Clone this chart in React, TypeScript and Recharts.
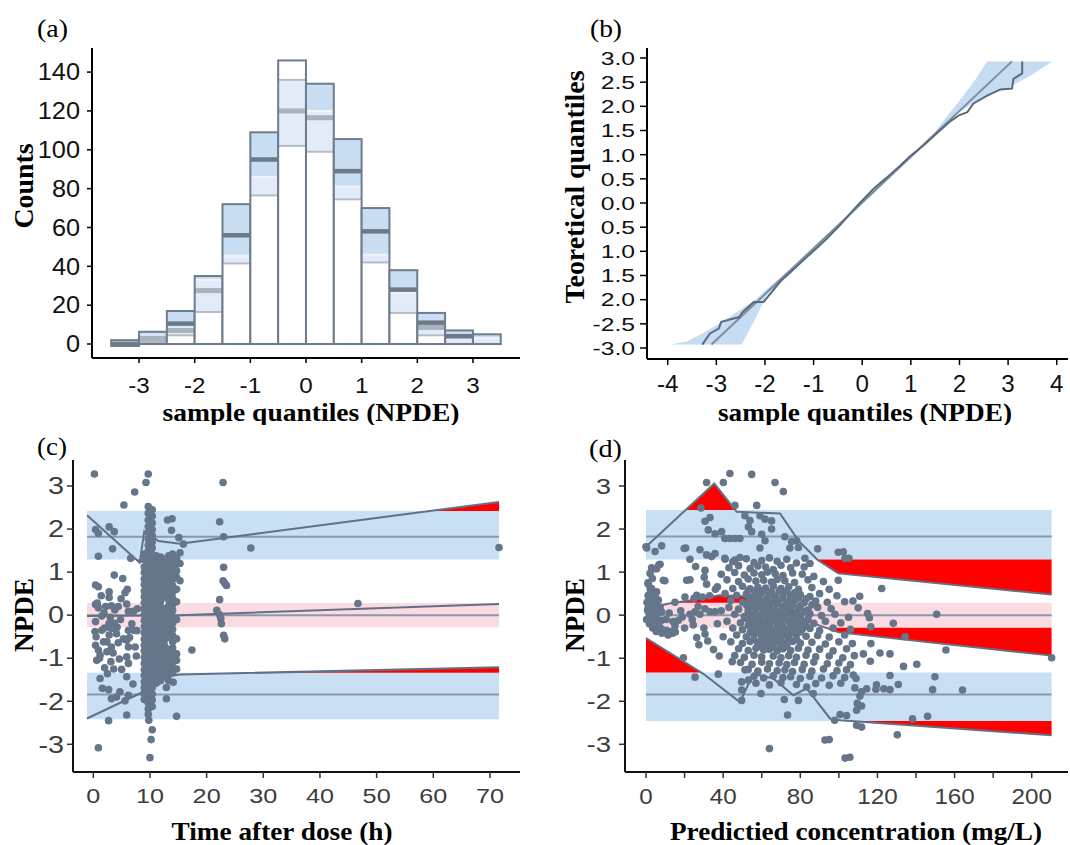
import React from 'react';
import { ComposedChart, Bar, Line, Area, Scatter, XAxis, YAxis } from 'recharts';

const SANS = '"Liberation Sans", Arial, Helvetica, sans-serif';
const SERIF = '"Liberation Serif", "Times New Roman", Times, serif';

// ---------------- (a) histogram ----------------
const binMid = [-3.25, -2.75, -2.25, -1.75, -1.25, -0.75, -0.25, 0.25, 0.75, 1.25, 1.75, 2.25, 2.75, 3.25];
const binBase = [-1, 0, 0, 0, 0, 0, 0, 0, 0, 0, 0, 0, 0, 0];
const binCount = [2, 6.3, 17, 35, 72, 109, 146, 134, 105.5, 70, 38, 16, 7, 5];
const binWhiteTop = [-1, 2.5, 4.5, 16.5, 41.5, 76.5, 102, 99, 74.5, 42, 16, 4.5, 0, 0];
const binLightTop = [-1, 4.3, 10, 33, 45.5, 86, 136, 120, 81, 46, 26.5, 10, 3.5, 3];
const binBlueTop = [-1, 6.3, 17, 35, 72, 109, 136, 134, 105.5, 70, 38, 16, 7, 5];
const binMedian = [-0.2, null, 10.5, null, 56, 95, null, null, 89, 58, 28, 11, 4, null];
const binGrayBand = [null, 3.0, 7, 27.5, null, null, 120, 116.5, null, null, null, 8.5, null, null];
const binGrayFill = [2, 2.5, 0, 0, 0, 0, 0, 0, 0, 0, 0, 0, 3.5, 2.5];
const histXTicks = [-3, -2, -1, 0, 1, 2, 3];
const histYTicks = [0, 20, 40, 60, 80, 100, 120, 140];
const HIST_X_DOMAIN = [-3.845, 3.845];
const HIST_Y_DOMAIN = [-7.2, 152.4];

// ---------------- (b) QQ plot ----------------
const qqBandX = [-3.95, -3.6, -3.29, -2.88, -2.48, -2.2, -1.96, -1.5, -1, -0.5, 0, 0.5, 1, 1.5, 2, 2.29, 2.57, 3, 3.5, 3.91];
const qqBandLo = [-2.93, -2.93, -2.93, -2.93, -2.93, -2.4, -1.9, -1.47, -0.99, -0.51, -0.03, 0.45, 0.92, 1.4, 1.88, 2.07, 2.22, 2.38, 2.66, 2.93];
const qqBandHi = [-2.93, -2.86, -2.7, -2.46, -2.19, -2.0, -1.78, -1.38, -0.91, -0.45, 0.03, 0.51, 0.99, 1.48, 2.12, 2.5, 2.93, 2.93, 2.93, 2.93];
const qqRefX = [-3.1, 3.08];
const qqRefY = [-2.93, 2.93];
const qqObsX = [-3.29, -3.13, -2.95, -2.9, -2.53, -2.46, -2.23, -2.03, -1.82, -1.68, -1.55, -1.41, -1.14, -0.9, -0.73, -0.45, -0.25, -0.04, 0.24, 0.51, 0.79, 0.99, 1.27, 1.54, 1.81, 2.0, 2.16, 2.29, 2.57, 2.84, 3.08, 3.11, 3.29, 3.29];
const qqObsY = [-2.93, -2.7, -2.6, -2.46, -2.36, -2.26, -2.05, -2.05, -1.79, -1.62, -1.5, -1.37, -1.12, -0.9, -0.74, -0.45, -0.22, 0.01, 0.3, 0.53, 0.78, 0.97, 1.2, 1.45, 1.69, 1.82, 1.88, 2.06, 2.22, 2.35, 2.37, 2.57, 2.68, 2.93];
const qqXTicks = [-4, -3, -2, -1, 0, 1, 2, 3, 4];
const qqYTicks = [-3, -2.5, -2, -1.5, -1, -0.5, 0, 0.5, 1, 1.5, 2, 2.5, 3];
const qqYLabels = ['-3.0', '-2.5', '2.0', '1.5', '1.0', '0.5', '0.0', '0.5', '1.0', '1.5', '2.0', '2.5', '3.0'];
const QQ_X_DOMAIN = [-4.426, 4.232];
const QQ_Y_DOMAIN = [-3.228, 3.207];

// ---------------- (c) NPDE vs time ----------------
const tadBandX = [-1.1, 71.6];
const tadUpperBand = [1.29, 2.42];
const tadMidBand = [-0.28, 0.28];
const tadLowerBand = [-2.42, -1.34];
const tadCenters = [1.82, 0, -1.84];
const tadUpperX = [-1.1, 8.2, 9.0, 11.5, 15.3, 71.6];
const tadUpperY = [2.32, 1.22, 1.95, 1.72, 1.66, 2.63];
const tadMidX = [-1.1, 15.3, 71.6];
const tadMidY = [-0.02, 0.0, 0.26];
const tadLowX = [-1.1, 8.5, 9.5, 11.2, 15.3, 71.6];
const tadLowY = [-2.4, -1.8, -1.5, -1.45, -1.38, -1.21];
const tadRedA = { x: [7.61, 8.2, 8.28], lo: [1.29, 1.22, 1.29], hi: [1.29, 1.29, 1.29] };
const tadRedB = { x: [59.4, 71.6], lo: [2.42, 2.42], hi: [2.42, 2.63] };
const tadRedC = { x: [28.5, 71.6], lo: [-1.34, -1.34], hi: [-1.34, -1.21] };
const tadXTicks = [0, 10, 20, 30, 40, 50, 60, 70];
const npdeTicks = [-3, -2, -1, 0, 1, 2, 3];
const TAD_X_DOMAIN = [-3.58, 75.3];
const NPDE_DOMAIN = [-3.643, 3.604];

const tadScatter: number[][] = [
  [0.2, 3.28], [9.7, 3.28], [9.3, 3.08], [7.3, 2.86], [5.4, 2.56], [22.9, 3.08],
  [0.4, 1.99], [0.9, 1.9], [2.8, 2.05], [3.7, 1.94], [3.4, 1.54], [0.9, 1.37], [6.6, 1.32],
  [13.1, 2.21], [13.9, 2.24], [13.8, 1.97], [15.1, 1.8], [15.9, 1.65],
  [22.3, 2.17], [23.0, 1.82], [27.8, 1.56], [23.0, 1.11], [22.9, 0.8], [23.2, 0.74], [23.5, 0.69], [22.3, 0.36],
  [21.8, 0.11], [22.3, 0.01], [22.5, -0.08], [22.6, -0.2], [23.0, -0.47], [23.2, -0.55],
  [46.7, 0.27], [71.6, 1.57], [17.4, -0.81],
  [3.7, 0.93], [5.2, 0.85], [0.4, 0.7], [0.9, 0.66], [2.8, 0.54], [2.8, 0.41], [5.6, 0.52], [0.4, 0.25], [0.9, 0.17],
  [2.2, 0.2], [3.2, 0.22], [4.4, 0.2], [5.9, 0.26], [6.2, 0.09], [7.1, 0.09], [1.5, -0.02], [0.4, -0.15], [2.8, -0.19],
  [3.7, -0.19], [3.2, -0.31], [1.5, -0.35], [2.8, -0.46], [4.1, -0.43], [6.2, -0.35], [7.1, -0.35], [7.7, -0.36],
  [0.4, -0.7], [0.9, -0.81], [2.4, -0.62], [3.2, -0.74], [4.4, -0.64], [5.9, -0.58], [6.2, -0.74], [7.4, -0.74],
  [1.2, -0.93], [3.5, -0.88], [5.9, -0.97], [3.1, -1.08], [5.0, -1.26], [6.2, -1.12], [1.2, -1.47], [2.5, -1.36],
  [5.9, -1.43], [2.7, -1.73], [4.7, -1.78], [6.2, -1.86], [3.2, -1.94], [4.1, -1.9], [5.6, -1.99], [5.9, -2.32],
  [2.7, -2.45], [0.9, -3.08], [10.0, -3.31], [10.2, -2.89], [10.4, -2.66], [9.8, -2.44], [12.9, -1.94], [14.7, -2.35],
  [12.9, -1.68], [14.1, -1.56],
  [0.5, -0.5], [1.1, -1.0], [2.0, -0.3], [1.8, -0.62], [4.8, -0.1], [5.3, -0.55], [6.8, -0.2], [0.3, -0.38],
  [1.9, 0.05], [4.6, -1.02], [0.6, -1.05], [2.0, -1.22], [3.8, 0.12], [4.9, 0.38], [6.4, -0.52], [7.8, 0.15],
  [0.7, 0.28], [2.4, -0.85], [4.2, -0.28], [3.6, -1.25], [1.6, -1.7], [7.0, -1.6], [7.6, -0.95], [6.0, 0.6],
  [1.4, 0.45], [3.0, -0.05],
];

const tadDenseCols = [
  { t: 9.0, ys: [1.42, 1.28, 1.12, 0.99, 0.84, 0.71, 0.56, 0.43, 0.28, 0.14, 0.01, -0.13, -0.27, -0.41, -0.56, -0.7, -0.83, -0.98, -1.12, -1.27, -1.4, -1.55, -1.69, -1.83, -1.96] },
  { t: 9.7, ys: [2.52, 2.37, 2.21, 2.06, 1.92, 1.77, 1.63, 1.49, 1.35, 1.2, 1.06, 0.92, 0.78, 0.63, 0.49, 0.35, 0.21, 0.07, -0.06, -0.2, -0.35, -0.49, -0.63, -0.77, -0.91, -1.05, -1.19, -1.33, -1.47, -1.62, -1.76, -1.9, -2.04, -2.18, -2.3] },
  { t: 10.4, ys: [2.45, 2.3, 2.14, 1.99, 1.85, 1.7, 1.56, 1.41, 1.27, 1.13, 0.99, 0.85, 0.7, 0.56, 0.42, 0.28, 0.14, 0.0, -0.14, -0.28, -0.42, -0.56, -0.7, -0.84, -0.98, -1.12, -1.26, -1.4, -1.54, -1.68, -1.83, -1.97, -2.12] },
  { t: 11.1, ys: [1.38, 1.23, 1.09, 0.95, 0.81, 0.66, 0.52, 0.38, 0.24, 0.1, -0.04, -0.18, -0.32, -0.46, -0.6, -0.74, -0.88, -1.02, -1.16, -1.3, -1.44, -1.58] },
  { t: 11.9, ys: [1.35, 1.2, 1.05, 0.91, 0.77, 0.62, 0.48, 0.33, 0.19, 0.05, -0.09, -0.24, -0.38, -0.52, -0.67, -0.81, -0.95, -1.1, -1.24, -1.38, -1.52] },
  { t: 12.6, ys: [1.3, 1.16, 1.01, 0.86, 0.72, 0.57, 0.43, 0.15, 0.01, -0.13, -0.28, -0.42, -0.57, -0.71, -0.85, -1.0, -1.14, -1.28, -1.43] },
  { t: 13.3, ys: [1.38, 1.23, 1.08, 0.94, 0.79, 0.65, 0.5, 0.36, 0.21, 0.07, -0.08, -0.22, -0.37, -0.51, -0.8, -0.94, -1.09, -1.23, -1.38, -1.52] },
  { t: 14.0, ys: [1.42, 1.27, 1.12, 0.98, 0.83, 0.69, 0.54, 0.4, 0.25, 0.11, -0.04, -0.18, -0.33, -0.47, -0.62, -0.76, -0.91, -1.05, -1.2, -1.34] },
  { t: 14.7, ys: [1.33, 1.18, 1.03, 0.88, 0.6, 0.31, -0.1, -0.55, -0.9, -1.05, -1.25] },
  { t: 15.3, ys: [1.45, 1.2, 0.8] },
];

// ---------------- (d) NPDE vs predicted concentration ----------------
const concBandX = [0, 210.3];
const concUpperBand = [1.29, 2.44];
const concMidBand = [-0.29, 0.29];
const concLowerBand = [-2.46, -1.33];
const concCenters = [1.83, 0, -1.84];
const concUpperX = [0, 35.4, 47, 69.5, 79, 89, 99.7, 210.3];
const concUpperY = [1.59, 3.06, 2.4, 2.36, 1.73, 1.28, 0.97, 0.48];
const concMidX = [0, 12, 25, 38, 50, 62, 78, 93, 100, 210.3];
const concMidY = [0.15, 0.27, 0.36, 0.46, 0.44, 0.22, -0.05, -0.29, -0.4, -0.94];
const concLowX = [0, 29.7, 48.7, 55.6, 66.0, 76.4, 83.3, 95.4, 100.6, 210.3];
const concLowY = [-0.53, -1.36, -2.02, -1.36, -1.47, -1.86, -1.7, -2.4, -2.44, -2.79];
const concRedA = { x: [20.5, 35.4, 46.3], lo: [2.44, 2.44, 2.44], hi: [2.44, 3.06, 2.44] };
const concRedB = { x: [88.8, 89, 99.7, 210.3], lo: [1.29, 1.28, 0.97, 0.48], hi: [1.29, 1.29, 1.29, 1.29] };
const concRedC = { x: [14.9, 25, 38, 50, 58.2], lo: [0.29, 0.29, 0.29, 0.29, 0.29], hi: [0.29, 0.36, 0.46, 0.44, 0.29] };
const concRedD = { x: [93, 100, 210.3], lo: [-0.29, -0.4, -0.94], hi: [-0.29, -0.29, -0.29] };
const concRedE = { x: [0, 28.6], lo: [-1.33, -1.33], hi: [-0.53, -1.33] };
const concRedF = { x: [106.9, 210.3], lo: [-2.46, -2.79], hi: [-2.46, -2.46] };
const concXTicks = [0, 20, 40, 60, 80, 100, 120, 140, 160, 180, 200];
const CONC_X_DOMAIN = [-10.89, 218.8];

const concScatter: number[][] = [
  [43.5, 3.29], [54.8, 3.27], [31.4, 3.08], [40.1, 3.08], [66.9, 3.08], [71.2, 2.87], [46.1, 2.55], [57.4, 2.55], [28.5, 2.49],
  [30.6, 2.18], [33.2, 2.27], [32.3, 1.98], [35.8, 1.89], [39.2, 1.94], [40.9, 1.78], [43.5, 1.78], [46.1, 1.78], [48.7, 1.78],
  [51.3, 2.31], [53.9, 2.2], [53.1, 2.05], [54.8, 1.94], [59.1, 2.31], [61.7, 2.23], [65.1, 2.19], [65.1, 2.0], [60.0, 1.88],
  [61.7, 1.73], [59.1, 1.56], [72.0, 1.82], [75.5, 1.71], [74.6, 1.56], [78.1, 1.73], [79.0, 1.57],
  [0.35, 1.56], [4.7, 1.48], [8.1, 1.61], [20.6, 1.56], [28.0, 1.52],
  [31.4, 1.4], [34.0, 1.36], [35.8, 1.43], [40.9, 1.32], [46.1, 1.28], [48.7, 1.34],
  [89.0, 1.54], [102.3, 1.47], [105.2, 1.32], [82.4, 1.32], [85.0, 1.2], [99.7, 1.46], [103.2, 1.32], [99.7, 0.81], [122.2, 0.62],
  [2.9, 1.1], [5.5, 1.08], [7.3, 1.18], [9.8, 0.8], [2.1, 0.97], [3.3, 0.85], [22.8, 0.82], [25.7, 1.13], [30.6, 1.04],
  [30.2, 0.88], [31.4, 0.72], [22.8, 1.3],
  [1.2, 0.72], [2.9, 0.62], [5.5, 0.54], [1.2, 0.46], [2.1, 0.35], [4.7, 0.27], [6.4, 0.35], [7.3, 0.19], [8.1, 0.08],
  [1.2, 0.19], [1.2, 0.08], [2.9, -0.04], [4.7, -0.12], [6.4, -0.23], [8.1, -0.12], [10.6, -0.35], [11.5, -0.46], [13.8, -0.42], [15.2, -0.39],
  [16.8, -0.12], [18.8, -0.04], [22.8, 0.02], [25.4, 0.08], [28.0, 0.02], [30.6, 0.15], [33.2, 0.08], [35.8, 0.08],
  [24.5, -0.23], [26.3, -0.52], [30.6, -0.44], [27.4, -0.69], [20.2, 0.42], [26.3, 0.46], [29.2, 0.42],
  [19.4, -0.99], [25.4, -1.44], [37.5, -1.37], [44.7, -1.08], [49.6, -1.55], [53.1, -1.51], [49.6, -1.74], [49.6, -1.98], [51.3, -1.27], [59.6, -1.82],
  [64.0, -3.1], [71.7, -1.96], [73.4, -2.32], [79.0, -1.98], [83.3, -1.67], [86.7, -1.82], [95.0, -2.89], [97.8, -2.44], [100.6, -2.31], [104.0, -2.33], [105.7, -3.3],
  [108.3, -1.69], [110.9, -1.88], [111.8, -2.11], [111.8, -2.6],
  [107.3, 0.33], [110.8, 0.44], [110.0, 0.17], [114.9, 0.04], [115.8, -0.06], [116.6, -0.27], [128.2, -0.19], [134.3, -0.5], [150.7, 0.02], [155.5, -0.81], [210.3, -0.99],
  [116.6, -0.66], [121.3, -0.88], [126.5, -0.9], [112.7, -0.9], [116.3, -1.07], [133.5, -1.19], [140.4, -1.14], [126.5, -1.4], [130.8, -1.61], [126.5, -1.73], [119.2, -1.72], [123.3, -1.71],
  [149.8, -1.43], [148.6, -1.73], [164.1, -1.74], [138.2, -2.41], [146.0, -2.35], [130.3, -2.78], [109.2, -2.56], [109.2, -2.21], [109.5, -2.05], [103.2, -3.32], [92.8, -2.9],
  [107.5, -1.39], [108.9, -1.47], [111.8, -1.78], [114.4, -1.71], [119.5, -1.62], [21.1, 0.81], [9.0, 0.81], [4.6, 1.08], [6.7, 1.17], [24.9, 0.39], [0, 1.59], [19.8, 1.55],
  [0.5, 0.3], [1.2, 0.45], [2.0, 0.2], [2.5, 0.05], [1.5, -0.05], [0.8, 0.12], [3.2, 0.3], [3.8, 0.12], [4.5, -0.05], [3.0, -0.15], [5.2, 0.2], [5.8, -0.1],
  [6.5, -0.2], [7.5, -0.3], [8.2, -0.42], [9.0, -0.35], [4.0, 0.5], [5.0, 0.4], [2.2, 0.6], [1.0, 0.75], [6.0, 0.05], [7.0, 0.1], [0.3, -0.1], [1.8, -0.2],
  [3.5, -0.3], [5.3, -0.38], [10.5, -0.1], [12, 0.05], [14, -0.15], [15, -0.25], [11.5, -0.45], [13, -0.38],
  [18, 0.1], [20, -0.3], [24, -0.1], [27, 0.2], [30, -0.3], [32, -0.6], [35, -0.8], [37, -0.2], [39, 0.1], [33, 0.45], [36, 0.6], [15, 0.3], [38, -0.95], [40, -0.5],
];

const concCore: number[][] = [
  [41, 1.3], [45, 1.24], [52, 1.31], [56, 1.22], [60, 1.27], [64, 1.33], [68, 1.25], [73, 1.3], [78, 1.21],
  [43, 1.1], [48, 1.15], [54, 1.08], [58, 1.14], [62, 1.12], [66, 1.06], [70, 1.16], [75, 1.1], [82, 1.12],
  [39, 0.95], [46, 0.99], [51, 0.93], [56, 0.98], [60, 0.94], [63, 1.0], [67, 0.96], [71, 0.92], [76, 0.98], [81, 0.95], [87, 0.9],
  [42, 0.82], [48, 0.78], [53, 0.84], [57, 0.79], [61, 0.81], [65, 0.77], [68, 0.83], [72, 0.8], [77, 0.76], [84, 0.82], [92, 0.78],
  [37, 0.66], [45, 0.62], [50, 0.67], [54, 0.61], [58, 0.65], [62, 0.63], [66, 0.68], [70, 0.62], [74, 0.66], [79, 0.6], [86, 0.64], [95, 0.6],
  [41, 0.5], [47, 0.46], [52, 0.49], [56, 0.45], [60, 0.51], [64, 0.47], [67, 0.44], [71, 0.5], [75, 0.46], [80, 0.48], [85, 0.43], [90, 0.5], [99, 0.45],
  [44, 0.34], [50, 0.3], [54, 0.35], [58, 0.31], [62, 0.33], [65, 0.28], [69, 0.34], [73, 0.3], [77, 0.35], [82, 0.29], [88, 0.33], [94, 0.3], [103, 0.31],
  [43, 0.18], [48, 0.14], [53, 0.17], [57, 0.13], [60, 0.19], [63, 0.15], [67, 0.12], [71, 0.18], [75, 0.14], [79, 0.17], [84, 0.12], [89, 0.18], [96, 0.15],
  [46, 0.02], [51, -0.03], [55, 0.01], [59, -0.02], [62, 0.03], [65, -0.01], [68, 0.02], [72, -0.04], [76, 0.01], [80, -0.02], [85, 0.03], [91, -0.01], [98, 0.02], [105, -0.05],
  [42, -0.14], [49, -0.18], [54, -0.13], [57, -0.17], [61, -0.15], [64, -0.19], [67, -0.14], [70, -0.18], [74, -0.13], [78, -0.17], [82, -0.15], [87, -0.19], [93, -0.14], [101, -0.18],
  [45, -0.3], [50, -0.34], [55, -0.29], [58, -0.33], [62, -0.31], [66, -0.35], [69, -0.3], [73, -0.34], [77, -0.29], [81, -0.33], [85, -0.31], [90, -0.36], [97, -0.3], [106, -0.33],
  [47, -0.46], [52, -0.5], [56, -0.45], [60, -0.49], [63, -0.47], [67, -0.51], [71, -0.46], [74, -0.5], [78, -0.45], [83, -0.49], [89, -0.47], [95, -0.51], [103, -0.46],
  [44, -0.62], [50, -0.66], [54, -0.61], [58, -0.65], [62, -0.63], [65, -0.67], [69, -0.62], [72, -0.66], [76, -0.61], [80, -0.65], [86, -0.63], [93, -0.67], [100, -0.62], [107, -0.66],
  [48, -0.78], [53, -0.82], [57, -0.77], [61, -0.81], [64, -0.79], [68, -0.83], [71, -0.78], [75, -0.82], [79, -0.77], [84, -0.81], [90, -0.79], [97, -0.83], [104, -0.78],
  [46, -0.94], [51, -0.98], [56, -0.93], [60, -0.97], [66, -0.95], [70, -0.99], [74, -0.94], [78, -0.98], [83, -0.93], [88, -0.97], [95, -0.95], [102, -0.99], [108, -0.94],
  [49, -1.1], [55, -1.14], [60, -1.09], [64, -1.13], [69, -1.11], [73, -1.15], [77, -1.1], [82, -1.14], [87, -1.09], [94, -1.13], [100, -1.11], [106, -1.15],
  [53, -1.26], [58, -1.3], [63, -1.25], [68, -1.29], [72, -1.27], [76, -1.31], [81, -1.26], [86, -1.3], [92, -1.25], [99, -1.29], [104, -1.27],
  [56, -1.42], [61, -1.46], [66, -1.41], [71, -1.45], [75, -1.43], [80, -1.47], [85, -1.42], [91, -1.46], [97, -1.41], [103, -1.45],
  [57, -1.58], [64, -1.62], [70, -1.57], [78, -1.61], [88, -1.59], [95, -1.63], [101, -1.58],
  [53, 0.58], [57, 0.55], [61, 0.57], [65, 0.54], [69, 0.56], [73, 0.55], [77, 0.52],
  [55, 0.41], [59, 0.39], [63, 0.4], [67, 0.38], [71, 0.41], [75, 0.39], [79, 0.4], [83, 0.38],
  [52, 0.24], [56, 0.22], [60, 0.25], [64, 0.23], [68, 0.26], [72, 0.22], [76, 0.25], [80, 0.23], [86, 0.24],
  [53, 0.09], [57, 0.07], [61, 0.08], [64, 0.06], [67, 0.09], [70, 0.07], [74, 0.08], [78, 0.06], [82, 0.09],
  [52, -0.08], [56, -0.09], [59, -0.07], [63, -0.1], [66, -0.08], [69, -0.09], [72, -0.07], [76, -0.1], [80, -0.08], [84, -0.09],
  [53, -0.24], [57, -0.23], [60, -0.25], [64, -0.26], [68, -0.22], [71, -0.25], [75, -0.24], [79, -0.23], [83, -0.25],
  [54, -0.4], [58, -0.41], [61, -0.39], [65, -0.42], [69, -0.38], [72, -0.41], [76, -0.4], [80, -0.39],
  [56, -0.56], [60, -0.57], [64, -0.55], [67, -0.58], [70, -0.54], [74, -0.57], [78, -0.56],
  [59, -0.72], [63, -0.71], [66, -0.73], [70, -0.7], [73, -0.72],
];

// ---------------- helpers ----------------
const pts = (xs: number[], ys: number[]) => xs.map((x, i) => ({ x, y: ys[i] }));
const rng = (xs: number[], lo: number[], hi: number[]) => xs.map((x, i) => ({ x, v: [lo[i], hi[i]] }));
const bandRows = (xs: number[], b: number[]) => xs.map((x) => ({ x, v: [b[0], b[1]] }));
const hline = (xs: number[], y: number) => xs.map((x) => ({ x, y }));
const pairs = (a: number[][]) => a.map(([x, y]) => ({ x, y }));

const histData = binMid.map((x, i) => ({
  x,
  range: [binBase[i], binCount[i]],
  base: binBase[i],
  count: binCount[i],
  whiteTop: binWhiteTop[i],
  lightTop: binLightTop[i],
  blueTop: binBlueTop[i],
  median: binMedian[i],
  grayBand: binGrayBand[i],
  grayFill: binGrayFill[i],
}));

const tadDots = [
  ...pairs(tadScatter),
  ...tadDenseCols.flatMap((c) => c.ys.map((y) => ({ x: c.t, y }))),
];
const concDots = [...pairs(concCore), ...pairs(concScatter)];

const AXIS = { stroke: '#000', strokeWidth: 2 };
const TICKLINE = { stroke: '#000', strokeWidth: 1.5 };
const BLUE = '#c9dff4';
const PINK = '#fadbe1';
const RED = '#ff0000';
const CENTER = '#8a99a8';
const PCT = '#617083';
const DOT = '#65768a';

function Tick(props: any) {
  const { x, y, payload, textAnchor, fs, sx, color, fmt, vert } = props;
  const v = payload ? payload.value : '';
  const label = fmt ? fmt(v) : String(v);
  return (
    <g transform={`translate(${x},${y})`}>
      <text transform={`scale(${sx},1)`} x={0} y={0} dy={vert ? '0.36em' : '0.71em'} textAnchor={textAnchor} fill={color} fontSize={fs} fontFamily={SANS}>
        {label}
      </text>
    </g>
  );
}

function XTitle(props: any) {
  const { px, py, title, len, fs } = props;
  return (
    <text x={px} y={py} textAnchor="middle" fontFamily={SERIF} fontWeight="bold" fontSize={fs} fill="#000" textLength={len} lengthAdjust="spacingAndGlyphs">
      {title}
    </text>
  );
}

function YTitle(props: any) {
  const { px, py, title, len, fs } = props;
  return (
    <text x={px} y={py} transform={`rotate(-90 ${px} ${py})`} textAnchor="middle" dominantBaseline="central" fontFamily={SERIF} fontWeight="bold" fontSize={fs} fill="#000" textLength={len} lengthAdjust="spacingAndGlyphs">
      {title}
    </text>
  );
}

function HistBin(p: any) {
  const { x, y, width, height, payload: d } = p;
  if (!d || !height) return null;
  const k = height / (d.count - d.base);
  const Y = (v: number) => y + (d.count - v) * k;
  const band = (a: number, b: number, fill: string) => (b > a ? <rect x={x} y={Y(b)} width={width} height={(b - a) * k} fill={fill} /> : null);
  const line = (v: number | null, th: number, fill: string) => (v == null ? null : <rect x={x} y={Y(v) - th / 2} width={width} height={th} fill={fill} />);
  return (
    <g>
      <rect x={x} y={y} width={width} height={height} fill="#fff" />
      {band(d.base, d.grayFill, '#aeb8c2')}
      {band(d.whiteTop, d.lightTop, '#e1ecf8')}
      {band(d.lightTop, d.blueTop, '#c9ddf3')}
      {d.whiteTop > d.base && d.whiteTop < d.count ? line(d.whiteTop, 2, '#b4bdc6') : null}
      {d.lightTop > d.whiteTop && d.lightTop < d.blueTop ? line(d.lightTop, 2, '#f1f5fa') : null}
      {d.blueTop < d.count ? line(d.blueTop, 2, '#b4bdc6') : null}
      {line(d.grayBand, 5, '#a9b3bd')}
      {line(d.median, 4.5, '#6b7989')}
      <rect x={x} y={y} width={width} height={height} fill="none" stroke="#6e7d8d" strokeWidth={2} />
    </g>
  );
}

const HIST_PLOT_W = 535 - 92 - 15;
const HIST_BAR = (0.5 / (HIST_X_DOMAIN[1] - HIST_X_DOMAIN[0])) * HIST_PLOT_W - 0.05;

const dotShape = (p: any) => <circle cx={p.cx} cy={p.cy} r={3.8} fill={DOT} />;

function HistPanel() {
  return (
    <ComposedChart width={535} height={425} data={histData} margin={{ top: 48, right: 15, bottom: 37, left: 32 }} barCategoryGap={0} barGap={0}>
      <XAxis type="number" dataKey="x" domain={HIST_X_DOMAIN} ticks={histXTicks} allowDataOverflow interval={0} height={30}
        tickSize={5} tickMargin={14} axisLine={AXIS} tickLine={TICKLINE}
        tick={<Tick fs={22} sx={1.1} color="#111" />}
        label={<XTitle px={311} py={421} title="sample quantiles (NPDE)" len={297} fs={25} />} />
      <YAxis type="number" domain={HIST_Y_DOMAIN} ticks={histYTicks} allowDataOverflow interval={0} width={60}
        tickSize={5} tickMargin={7} axisLine={AXIS} tickLine={TICKLINE}
        tick={<Tick fs={23} sx={1.1} color="#111" vert />}
        label={<YTitle px={23} py={186} title="Counts" len={85} fs={28} />} />
      <Bar dataKey="range" barSize={HIST_BAR} shape={(p: any) => <HistBin {...p} />} isAnimationActive={false} />
    </ComposedChart>
  );
}

function QQPanel() {
  return (
    <ComposedChart width={535} height={425} margin={{ top: 48, right: 2, bottom: 36, left: 52 }}>
      <XAxis type="number" dataKey="x" domain={QQ_X_DOMAIN} ticks={qqXTicks} allowDataOverflow interval={0} height={30}
        tickSize={6} tickMargin={11} axisLine={AXIS} tickLine={TICKLINE}
        tick={<Tick fs={23} sx={1.05} color="#111" />}
        label={<XTitle px={330} py={421} title="sample quantiles (NPDE)" len={294} fs={25} />} />
      <YAxis type="number" domain={QQ_Y_DOMAIN} ticks={qqYTicks} allowDataOverflow interval={0} width={60}
        tickSize={7} tickMargin={5} axisLine={AXIS} tickLine={TICKLINE}
        tick={<Tick fs={19} sx={1.3} color="#111" vert fmt={(v: number) => qqYLabels[qqYTicks.indexOf(v)]} />}
        label={<YTitle px={39} py={187} title="Teoretical quantiles" len={233} fs={28} />} />
      <Area data={rng(qqBandX, qqBandLo, qqBandHi)} dataKey="v" type="linear" stroke="none" fill="#c5dcf2" fillOpacity={1} isAnimationActive={false} />
      <Line data={pts(qqRefX, qqRefY)} dataKey="y" type="linear" stroke="#7f8d9b" strokeWidth={2} dot={false} isAnimationActive={false} />
      <Line data={pts(qqObsX, qqObsY)} dataKey="y" type="linear" stroke="#5b6a7b" strokeWidth={2} dot={false} isAnimationActive={false} />
    </ComposedChart>
  );
}

function NpdePanel(props: any) {
  const { xDomain, xTicks, xFmt, xTitle, xTitleLen, xTitleX, yTitleX, bandX, bands, centers, lines, reds, dots, margin, xsx, ysx, yfs, xfs, ytm } = props;
  return (
    <ComposedChart width={535} height={420} margin={margin}>
      <XAxis type="number" dataKey="x" domain={xDomain} ticks={xTicks} allowDataOverflow interval={0} height={30}
        tickSize={6} tickMargin={10} axisLine={{ stroke: '#111', strokeWidth: 2 }} tickLine={{ stroke: '#333', strokeWidth: 1.5 }}
        tick={<Tick fs={xfs} sx={xsx} color="#3d3d3d" fmt={xFmt} />}
        label={<XTitle px={xTitleX} py={415} title={xTitle} len={xTitleLen} fs={26} />} />
      <YAxis type="number" domain={NPDE_DOMAIN} ticks={npdeTicks} allowDataOverflow interval={0} width={60}
        tickSize={6} tickMargin={ytm} axisLine={{ stroke: '#111', strokeWidth: 2 }} tickLine={{ stroke: '#333', strokeWidth: 1.5 }}
        tick={<Tick fs={yfs} sx={ysx} color="#3d3d3d" vert />}
        label={<YTitle px={yTitleX} py={190} title="NPDE" len={74} fs={28} />} />
      <Area data={bandRows(bandX, bands[0])} dataKey="v" type="linear" stroke="none" fill={BLUE} fillOpacity={1} isAnimationActive={false} />
      <Area data={bandRows(bandX, bands[1])} dataKey="v" type="linear" stroke="none" fill={PINK} fillOpacity={1} isAnimationActive={false} />
      <Area data={bandRows(bandX, bands[2])} dataKey="v" type="linear" stroke="none" fill={BLUE} fillOpacity={1} isAnimationActive={false} />
      {reds.map((r: any, i: number) => (
        <Area key={'r' + i} data={rng(r.x, r.lo, r.hi)} dataKey="v" type="linear" stroke="none" fill={RED} fillOpacity={1} isAnimationActive={false} />
      ))}
      {centers.map((c: number, i: number) => (
        <Line key={'c' + i} data={hline(bandX, c)} dataKey="y" type="linear" stroke={CENTER} strokeWidth={2} dot={false} isAnimationActive={false} />
      ))}
      {lines.map((l: any, i: number) => (
        <Line key={'l' + i} data={l} dataKey="y" type="linear" stroke={PCT} strokeWidth={2} dot={false} isAnimationActive={false} />
      ))}
      <Scatter data={dots} dataKey="y" shape={dotShape} isAnimationActive={false} />
    </ComposedChart>
  );
}

export default function App() {
  return (
    <div style={{ position: 'absolute', left: 0, top: 0, width: 1070, height: 845, background: '#fff', overflow: 'hidden' }}>
      <div style={{ position: 'absolute', left: 0, top: 0 }}>
        <HistPanel />
      </div>
      <div style={{ position: 'absolute', left: 535, top: 0 }}>
        <QQPanel />
      </div>
      <div style={{ position: 'absolute', left: 0, top: 425 }}>
        <NpdePanel
          margin={{ top: 35, right: 15, bottom: 43, left: 13 }}
          xDomain={TAD_X_DOMAIN} xTicks={tadXTicks} xTitle="Time after dose (h)" xTitleLen={221} xTitleX={282} yTitleX={23}
          bandX={tadBandX} bands={[tadUpperBand, tadMidBand, tadLowerBand]} centers={tadCenters}
          lines={[pts(tadUpperX, tadUpperY), pts(tadMidX, tadMidY), pts(tadLowX, tadLowY)]}
          reds={[tadRedA, tadRedB, tadRedC]} dots={tadDots} xsx={1.2} ysx={1.25} yfs={23} xfs={21} ytm={3} />
      </div>
      <div style={{ position: 'absolute', left: 535, top: 425 }}>
        <NpdePanel
          margin={{ top: 35, right: 2, bottom: 43, left: 30 }}
          xDomain={CONC_X_DOMAIN} xTicks={concXTicks} xFmt={(v: number) => (v % 40 === 0 ? String(v) : '')}
          xTitle="Predictied concentration (mg/L)" xTitleLen={372} xTitleX={321} yTitleX={39}
          bandX={concBandX} bands={[concUpperBand, concMidBand, concLowerBand]} centers={concCenters}
          lines={[pts(concUpperX, concUpperY), pts(concMidX, concMidY), pts(concLowX, concLowY)]}
          reds={[concRedA, concRedB, concRedC, concRedD, concRedE, concRedF]} dots={concDots} xsx={1.1} ysx={1.25} yfs={22} xfs={22} ytm={8} />
      </div>
      <svg width={1070} height={845} style={{ position: 'absolute', left: 0, top: 0, pointerEvents: 'none' }}>
        <text x={37} y={37} fontFamily={SERIF} fontSize={26} fill="#000" textLength={31} lengthAdjust="spacingAndGlyphs">(a)</text>
        <text x={590} y={37} fontFamily={SERIF} fontSize={26} fill="#000" textLength={32} lengthAdjust="spacingAndGlyphs">(b)</text>
        <text x={37} y={455} fontFamily={SERIF} fontSize={26} fill="#000" textLength={30} lengthAdjust="spacingAndGlyphs">(c)</text>
        <text x={589} y={457} fontFamily={SERIF} fontSize={26} fill="#000" textLength={33} lengthAdjust="spacingAndGlyphs">(d)</text>
      </svg>
    </div>
  );
}
